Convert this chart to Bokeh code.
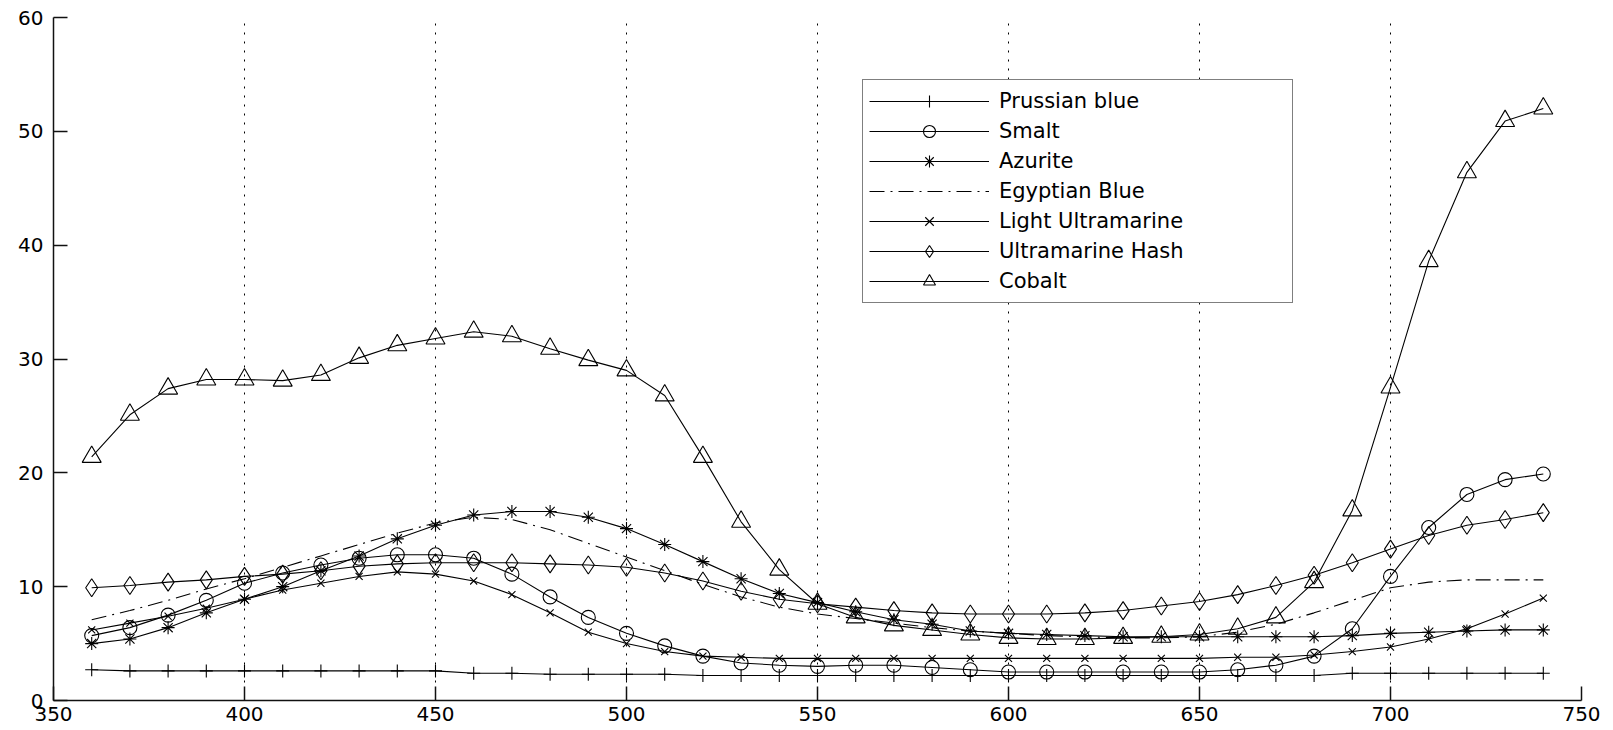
from bokeh.plotting import figure
from bokeh.models import Range1d, FixedTicker, Legend, LegendItem
from bokeh.embed import file_html
from bokeh.resources import INLINE

wavelength = [360, 370, 380, 390, 400, 410, 420, 430, 440, 450,
              460, 470, 480, 490, 500, 510, 520, 530, 540, 550,
              560, 570, 580, 590, 600, 610, 620, 630, 640, 650,
              660, 670, 680, 690, 700, 710, 720, 730, 740]

prussian_blue = [2.7, 2.6, 2.6, 2.6, 2.6, 2.6, 2.6, 2.6, 2.6, 2.6,
                 2.4, 2.4, 2.3, 2.3, 2.3, 2.3, 2.2, 2.2, 2.2, 2.2,
                 2.2, 2.2, 2.2, 2.2, 2.2, 2.2, 2.2, 2.2, 2.2, 2.2,
                 2.2, 2.2, 2.2, 2.4, 2.4, 2.4, 2.4, 2.4, 2.4]

smalt = [5.7, 6.4, 7.5, 8.8, 10.3, 11.2, 11.9, 12.5, 12.8, 12.8,
         12.5, 11.1, 9.1, 7.3, 5.9, 4.8, 3.9, 3.3, 3.1, 3.0,
         3.1, 3.1, 2.9, 2.7, 2.5, 2.5, 2.5, 2.5, 2.5, 2.5,
         2.7, 3.1, 3.9, 6.3, 10.9, 15.2, 18.1, 19.4, 19.9]

azurite = [5.0, 5.4, 6.4, 7.7, 8.9, 10.0, 11.4, 12.7, 14.2, 15.4,
           16.3, 16.6, 16.6, 16.1, 15.1, 13.7, 12.2, 10.7, 9.4, 8.6,
           7.8, 7.1, 6.7, 6.1, 5.9, 5.8, 5.7, 5.6, 5.6, 5.6,
           5.6, 5.6, 5.6, 5.7, 5.9, 6.0, 6.1, 6.2, 6.2]

egyptian_blue = [7.1, 7.9, 8.8, 9.8, 10.7, 11.7, 12.7, 13.7, 14.7, 15.6,
                 16.1, 15.9, 15.0, 13.8, 12.6, 11.4, 10.2, 9.1, 8.2, 7.6,
                 7.2, 6.8, 6.4, 6.1, 5.9, 5.7, 5.6, 5.5, 5.5, 5.6,
                 6.0, 6.7, 7.7, 8.8, 9.9, 10.4, 10.6, 10.6, 10.6]

light_ultramarine = [6.2, 6.8, 7.4, 8.1, 8.9, 9.7, 10.3, 10.9, 11.3, 11.1,
                     10.5, 9.3, 7.7, 6.0, 5.0, 4.3, 3.9, 3.8, 3.7, 3.7,
                     3.7, 3.7, 3.7, 3.7, 3.7, 3.7, 3.7, 3.7, 3.7, 3.7,
                     3.8, 3.8, 4.0, 4.3, 4.7, 5.4, 6.3, 7.6, 9.0]

ultramarine_hash = [9.9, 10.1, 10.4, 10.6, 10.9, 11.1, 11.4, 11.8, 12.0, 12.1,
                    12.1, 12.1, 12.0, 11.9, 11.7, 11.2, 10.5, 9.6, 8.9, 8.5,
                    8.2, 7.9, 7.7, 7.6, 7.6, 7.6, 7.7, 7.9, 8.3, 8.7,
                    9.3, 10.1, 11.0, 12.1, 13.3, 14.5, 15.4, 15.9, 16.5]

cobalt = [21.4, 25.1, 27.4, 28.2, 28.2, 28.1, 28.6, 30.1, 31.2, 31.8,
          32.4, 32.0, 30.9, 29.9, 29.0, 26.8, 21.4, 15.7, 11.5, 8.5,
          7.3, 6.6, 6.2, 5.8, 5.5, 5.4, 5.4, 5.5, 5.6, 5.8,
          6.3, 7.3, 10.4, 16.7, 27.5, 38.6, 46.4, 50.9, 52.0]

x_ticks = [350, 400, 450, 500, 550, 600, 650, 700, 750]
y_ticks = [0, 10, 20, 30, 40, 50, 60]

series = [
    ("Prussian blue", prussian_blue, "cross", 13, None),
    ("Smalt", smalt, "circle", 14, None),
    ("Azurite", azurite, "asterisk", 13, None),
    ("Egyptian Blue", egyptian_blue, None, 0, "15 6 2 6"),
    ("Light Ultramarine", light_ultramarine, "x", 10, None),
    ("Ultramarine Hash", ultramarine_hash, "diamond", 18, None),
    ("Cobalt", cobalt, "triangle", 19, None),
]

FONT = "DejaVu Sans"

p = figure(width=1613, height=730, output_backend="svg", toolbar_location=None,
           x_range=Range1d(350, 750), y_range=Range1d(0, 60),
           min_border_left=53, min_border_right=32, min_border_top=17,
           min_border_bottom=30)
p.outline_line_color = None
p.background_fill_color = "white"
p.border_fill_color = "white"

for ax, ticks in ((p.xaxis, x_ticks), (p.yaxis, y_ticks)):
    ax.ticker = FixedTicker(ticks=ticks)
    ax.major_tick_in = 14
    ax.major_tick_out = 0
    ax.minor_tick_line_color = None
    ax.axis_line_color = "#111111"
    ax.axis_line_width = 1.5
    ax.major_tick_line_color = "#111111"
    ax.major_tick_line_width = 1.5
    ax.major_label_text_font = FONT
    ax.major_label_text_font_size = "20px"
    ax.major_label_text_color = "black"
p.yaxis.major_label_standoff = 10
p.xaxis.major_label_standoff = 6

p.xgrid.ticker = FixedTicker(ticks=x_ticks)
p.xgrid.grid_line_color = "black"
p.xgrid.grid_line_dash = "2 7"
p.xgrid.grid_line_width = 1
p.ygrid.grid_line_color = None

items = []
for name, vals, marker, size, dash in series:
    rs = []
    if dash:
        rs.append(p.line(wavelength, vals, line_color="black", line_width=1.1,
                         line_dash=dash))
    else:
        rs.append(p.line(wavelength, vals, line_color="black", line_width=1.1))
    if marker:
        rs.append(p.scatter(wavelength, vals, marker=marker, size=size,
                            line_color="black", line_width=1.1, fill_color=None))
    items.append(LegendItem(label=name, renderers=rs))

legend = Legend(items=items, location=(809, 397))
legend.glyph_width = 120
legend.glyph_height = 30
legend.spacing = 0
legend.padding = 6
legend.margin = 0
legend.label_standoff = 10
legend.label_width = 287
legend.label_height = 20
legend.label_text_font = FONT
legend.label_text_font_size = "21px"
legend.label_text_color = "black"
legend.border_line_color = "black"
legend.border_line_width = 1.5
legend.background_fill_color = "white"
legend.background_fill_alpha = 1.0
p.add_layout(legend)

open("out.html", "w").write(file_html(p, INLINE))
